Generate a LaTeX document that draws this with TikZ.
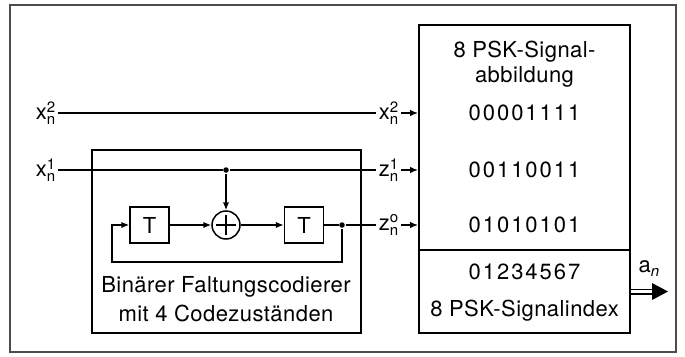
\documentclass[tikz,border=0pt]{standalone}
\usepackage{fontspec}
\setmainfont[LetterSpace=2]{TeX Gyre Heros}
\usetikzlibrary{arrows.meta}
\newcommand{\sig}[3]{#1\rlap{\raisebox{7.5pt}{\fontsize{15}{15}\selectfont #2}}\raisebox{-5pt}{\fontsize{15}{15}\selectfont #3}}
\tikzset{delay/.style={draw,minimum width=39pt,minimum height=36pt,inner sep=0pt},
adder/.style={draw,circle,minimum size=28pt,inner sep=0pt},
mydot/.style={fill,circle,minimum size=5.5pt,inner sep=0pt},
block/.style={draw,line width=1.8pt,inner sep=0pt},
sigarrow/.style={-{Latex[length=8pt,width=6.5pt]}},
digits/.style={font=\fontsize{22}{26}\selectfont\addfontfeature{LetterSpace=9}}}

\begin{document}
\begin{tikzpicture}[x=1pt,y=-1pt,line width=1.5pt,font=\fontsize{22}{26}\selectfont]
\useasboundingbox (0,0) rectangle (685,356);
% outer frame
\draw[black!70,line width=1.5pt] (10,5) rectangle (676,352);
% signal mapping blocks
\node[block,minimum width=211pt,minimum height=225pt] (map) at (524.5,137.5) {};
\node[block,minimum width=211pt,minimum height=83pt] (index) at (524.5,291.5) {};
\node at (524.5,52) {8 PSK-Signal-};
\node at (524.5,77) {abbildung};
\node[digits] (row2) at (524.5,113) {00001111};
\node[digits] (row1) at (524.5,170) {00110011};
\node[digits] (row0) at (524.5,225) {01010101};
\node[digits] (idxrow) at (524.5,272) {01234567};
\node at (524.5,311) {8 PSK-Signalindex};
% convolutional encoder
\node[block,minimum width=269pt,minimum height=183pt] (enc) at (226.5,241.5) {};
\node[delay] (t1) at (149.5,225) {T};
\node[adder] (add) at (226,225) {};
\draw ([yshift=-5pt]add.north) -- ([yshift=5pt]add.south);
\draw ([xshift=5pt]add.west) -- ([xshift=-5pt]add.east);
\node[delay] (t2) at (304,225) {T};
\node[mydot] (d1) at (226,170) {};
\node[mydot] (d0) at (342,225) {};
\node at (226,287) {Binärer Faltungscodierer};
\node at (226,313) {mit 4 Codezuständen};
% inputs and outputs
\node[anchor=east,inner sep=2pt] (x2in) at (58,113) {\sig{x}{2}{n}};
\node[anchor=east,inner sep=2pt] (x1in) at (58,170) {\sig{x}{1}{n}};
\node[anchor=east,inner sep=2pt] (x2out) at (401,113) {\sig{x}{2}{n}};
\node[anchor=east,inner sep=2pt] (z1out) at (401,170) {\sig{z}{1}{n}};
\node[anchor=east,inner sep=2pt] (z0out) at (401,225) {\sig{z}{o}{n}};
\draw (x2in) -- (x2out);
\draw (x1in) -- (d1) -- (z1out);
\draw (t2) -- (d0) -- (z0out);
\draw[sigarrow] (x2out) -- (x2out -| map.west);
\draw[sigarrow] (z1out) -- (z1out -| map.west);
\draw[sigarrow] (z0out) -- (z0out -| map.west);
% encoder paths
\coordinate (fb) at (112,262);
\draw[sigarrow] (d1) -- (add);
\draw[sigarrow] (t1) -- (add);
\draw[sigarrow] (add) -- (t2);
\draw[sigarrow] (d0) |- (fb) |- (t1.west);
% output symbol
\node (an) at (649,269) {a\raisebox{-4pt}{\fontsize{15}{15}\selectfont\itshape n}};
\coordinate (anend) at (668,291.5);
\coordinate (antip) at (653,291.5);
\draw[double,double distance=3pt] (index.east) -- (antip);
\fill (antip) ++(-1,-8.5) -- (anend) -- ([xshift=-1pt,yshift=-8.5pt]antip) -- cycle;
\end{tikzpicture}
\end{document}
